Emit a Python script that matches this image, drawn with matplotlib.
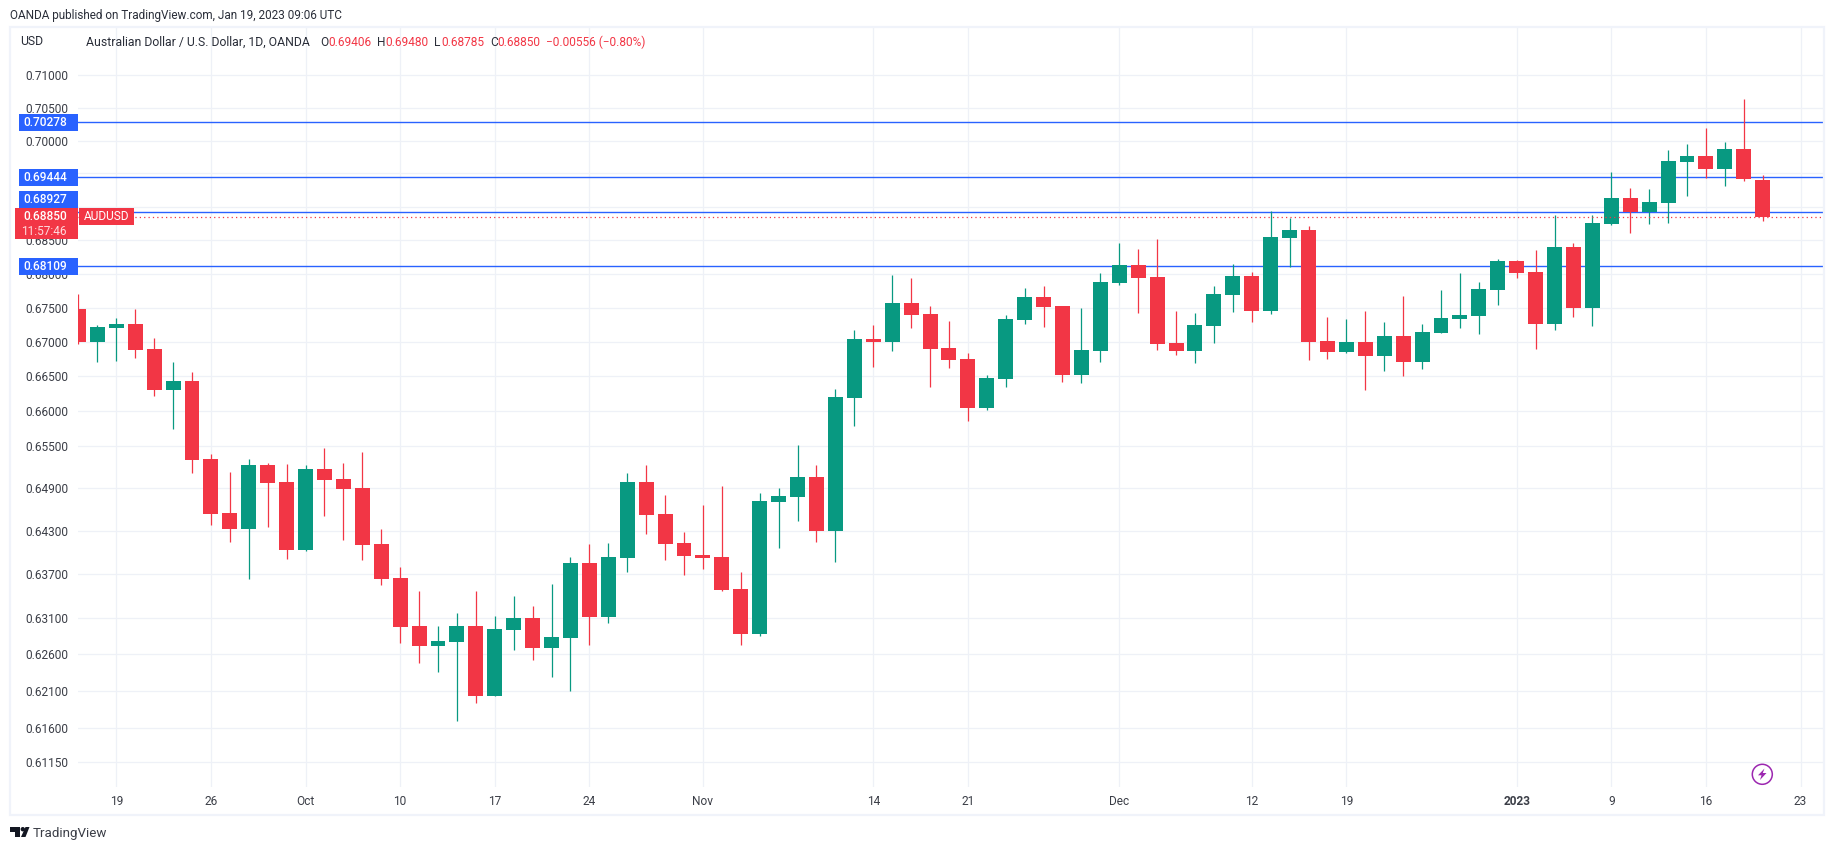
import matplotlib
matplotlib.use('Agg')
import matplotlib.pyplot as plt
from matplotlib.patches import Rectangle, Circle, Polygon
from matplotlib.ticker import NullLocator, NullFormatter

plt.rcParams['font.family'] = ['Roboto', 'DejaVu Sans']

opens = [.67476, .67005, .67205, .67262, .66902, .66305, .66433, .65319, .64556, .64333,
         .65233, .6499, .6404, .65176, .65033, .64905, .64123, .63649, .62983, .62713,
         .62767, .62983, .62037, .62929, .63091, .62686, .62821, .63858, .63105, .63928,
         .6499, .64542, .64137, .6397, .63942, .63495, .62875, .64709, .64779, .65062,
         .64305, .6619, .67048, .67005, .67564, .67405, .66917, .66755, .66048, .66462,
         .67319, .67652, .6752, .6652, .66873, .67858, .68126, .67946, .6699, .66873,
         .67234, .67682, .67961, .67448, .6853, .6865, .67019, .66858, .67005, .66799,
         .6709, .66711, .67133, .67333, .67376, .67755, .68185, .6802, .67262, .68399,
         .6749, .6874, .6913, .68917, .69052, .69681, .6977, .69564, .69873, .69406]
closes = [.67005, .67219, .67262, .66887, .66305, .66433, .65305, .64542, .64333, .65233,
          .64976, .6404, .65176, .65019, .64891, .64109, .63636, .6297, .62713, .6278,
          .62983, .62037, .62943, .63091, .62686, .62834, .63858, .63105, .63942, .6499,
          .64528, .64123, .63956, .63928, .63481, .62875, .64723, .64793, .65062, .64305,
          .66205, .67048, .67005, .67564, .67391, .66902, .6674, .66048, .66476, .67333,
          .67652, .67505, .6652, .66887, .67873, .68126, .67931, .66975, .66873, .67248,
          .67696, .67961, .67448, .68545, .6865, .67005, .66858, .67005, .66799, .6709,
          .66711, .67148, .67348, .6739, .67769, .68185, .68005, .67262, .68399, .6749,
          .68755, .6913, .68917, .69068, .69696, .6977, .69564, .69873, .69411, .6885]
highs = [.67696, .67248, .67347, .67476, .67062, .66711, .66564, .65391, .65133, .65319,
         .65262, .65248, .65233, .65476, .65262, .65419, .64333, .63802, .63467, .62983,
         .6316, .63467, .63119, .63398, .63258, .63565, .63942, .64123, .64137, .65119,
         .65233, .64807, .64291, .64661, .64933, .63733, .64835, .64905, .65519, .65233,
         .66319, .67176, .67248, .67976, .67931, .6752, .67305, .66843, .6652, .6739,
         .67784, .67814, .6752, .6749, .68005, .6846, .68369, .6852, .67448, .67419,
         .67814, .68141, .6802, .6893, .6883, .6871, .67362, .67333, .67448, .67291,
         .67667, .67262, .67755, .68005, .67873, .68215, .682, .68353, .68873, .6846,
         .68873, .6952, .69286, .6927, .69855, .69944, .70198, .69975, .70641, .6948]
lows = [.66976, .66711, .66726, .6677, .66219, .65748, .6512, .64388, .64151, .63636,
        .6436, .63914, .64026, .64514, .64179, .639, .63553, .62754, .62483, .62362,
        .61699, .61943, .6203, .62659, .62524, .62294, .62105, .62726, .63023, .63733,
        .64263, .639, .63691, .63774, .6347, .62726, .62848, .64067, .64444, .64151,
        .63872, .6579, .66633, .66873, .67205, .66348, .66622, .65862, .66019, .66348,
        .67262, .67219, .66419, .66405, .66711, .67829, .67419, .66887, .66814, .66696,
        .6699, .67433, .67291, .67405, .68105, .6673, .66755, .66843, .66305, .66578,
        .66505, .66608, .6713, .67205, .67119, .67539, .67931, .6689, .67176, .67362,
        .67233, .6873, .68608, .6874, .68755, .69161, .69427, .69317, .69381, .68785]

price_ticks = [.71, .705, .70, .695, .69, .685, .68, .675, .67, .665, .66, .655, .649, .643,
               .637, .631, .626, .621, .616, .6115]
hidden_prices = [.695, .69]  # these two sit fully behind the price tags
date_ticks = [2, 7, 12, 17, 22, 27, 33, 42, 47, 55, 62, 67, 76, 81, 86, 91]
date_labels = ['19', '26', 'Oct', '10', '17', '24', 'Nov', '14', '21', 'Dec', '12', '19',
               '2023', '9', '16', '23']
levels = [.70278, .69444, .68927, .68109]
last_price = .6885

GREEN = '#089981'
RED = '#f23645'
BLUE = '#2962ff'
GRID = '#eef1f7'
TEXT = '#3b3e47'
W, H = 1834, 850

fig = plt.figure(figsize=(W / 100, H / 100), dpi=100)
ax = fig.add_axes([78 / W, 1 - 787 / H, (1824 - 78) / W, 759 / H])
ax.set_yscale('log')

# candles
x = list(range(len(opens)))
cols = [GREEN if c >= o else RED for o, c in zip(opens, closes)]
bottoms = [min(o, c) for o, c in zip(opens, closes)]
heights = [abs(c - o) for o, c in zip(opens, closes)]
ax.vlines(x, lows, highs, colors=cols, lw=0.9, zorder=4)
ax.bar(x, heights, bottom=bottoms, width=0.79, color=cols, linewidth=0, zorder=4)

for lv in levels:
    ax.axhline(lv, color=BLUE, lw=1.0, zorder=3)
ax.axhline(last_price, color=RED, lw=0.9, linestyle=(0, (1, 2.5)), zorder=5)

ax.set_xlim(-0.024, 92.24)
ax.set_ylim(.60818, .71734)
ax.yaxis.set_minor_locator(NullLocator())
ax.yaxis.set_minor_formatter(NullFormatter())
ax.set_yticks(price_ticks)
ax.set_yticklabels(['' if p in hidden_prices else f'{p:.5f}' for p in price_ticks])
ax.set_xticks(date_ticks)
ax.set_xticklabels(date_labels)
ax.tick_params(axis='both', length=0, labelsize=8.6, labelcolor=TEXT)
ax.tick_params(axis='y', pad=7)
ax.tick_params(axis='x', pad=5.5)
for lab in ax.get_xticklabels():
    if lab.get_text() == '2023':
        lab.set_fontweight('bold')
ax.grid(True, color=GRID, lw=0.9, zorder=0)
ax.set_axisbelow(True)
for s in ax.spines.values():
    s.set_visible(False)

# pixel overlay for the TradingView furniture
ov = fig.add_axes([0, 0, 1, 1], zorder=10)
ov.set_xlim(0, W)
ov.set_ylim(H, 0)
ov.axis('off')
ov.add_patch(Rectangle((10, 27), 1814, 788, fill=False, ec='#f0f3fa', lw=1.6))


def tag(x0, y0, w, h, col):
    ov.add_patch(Rectangle((x0, y0), w, h, fc=col, ec='none'))


def txt(px, py, s, col=TEXT, ha='left', size=8.8, weight='normal'):
    ov.text(px, py, s, color=col, ha=ha, va='center', fontsize=size, fontweight=weight)


txt(10, 15, 'OANDA published on TradingView.com, Jan 19, 2023 09:06 UTC', '#2a2e39', size=8.5)
txt(20, 41, 'USD', '#2a2e39')
txt(86, 42, 'Australian Dollar / U.S. Dollar, 1D, OANDA', '#2a2e39')
for px, s, c in [(320, 'O', '#2a2e39'), (328, '0.69406', RED), (377, 'H', '#2a2e39'), (385, '0.69480', RED),
                 (434, 'L', '#2a2e39'), (441, '0.68785', RED), (490, 'C', '#2a2e39'), (497, '0.68850', RED),
                 (546, '\u22120.00556 (\u22120.80%)', RED)]:
    txt(px, 42, s, c, size=8.6)

for lv, y0 in zip(levels, [114, 169, 191, 258]):
    tag(19, y0, 59, 17, BLUE)
    txt(67, y0 + 8.5, f'{lv:.5f}', 'white', ha='right', size=8.6, weight='medium')
tag(15, 208, 63, 31, RED)
txt(67, 216.5, f'{last_price:.5f}', 'white', ha='right', size=8.6, weight='medium')
txt(67, 231, '11:57:46', '#ffd9dc', ha='right', size=8.6)
tag(79, 208, 55, 17, RED)
txt(106.5, 216.5, 'AUDUSD', 'white', ha='center', size=8.6)

# lightning badge
ov.add_patch(Circle((1762.3, 774.3), 10, fill=False, ec='#9c27b0', lw=1.1))
ov.add_patch(Polygon([(1764.5, 768.5), (1758, 775.3), (1761.5, 775.3), (1760, 780),
                      (1766.5, 773), (1762.8, 773)], fc='#9c27b0', ec='none'))

# TradingView logo
ov.add_patch(Polygon([(10, 827), (20, 827), (20, 837), (14.5, 837), (14.5, 831.5), (10, 831.5)], fc='#131722', ec='none'))
ov.add_patch(Circle((22.8, 829.2), 2.2, fc='#131722', ec='none'))
ov.add_patch(Polygon([(25.5, 827), (29.5, 827), (25.5, 837), (21, 837)], fc='#131722', ec='none'))
txt(33, 833, 'TradingView', '#3b3e47', size=9.6)

fig.savefig('out.png', dpi=100)
